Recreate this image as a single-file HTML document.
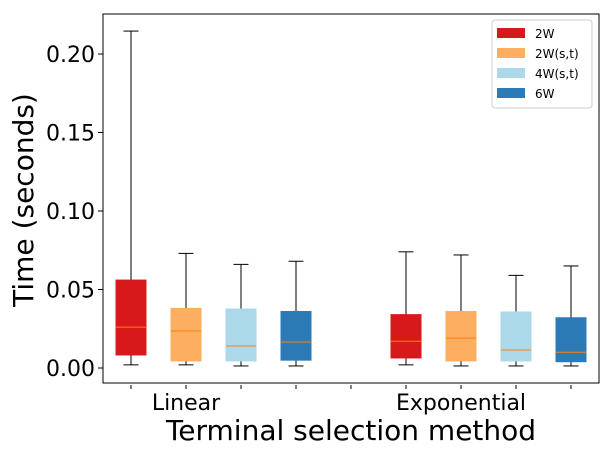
<!DOCTYPE html>
<html><head><meta charset="utf-8"><style>
body{margin:0;background:#fff;}
text{font-family:"DejaVu Sans","Liberation Sans",sans-serif;fill:#000;}
</style></head><body>
<svg id="chart" width="612" height="456" viewBox="0 0 612 456" xmlns="http://www.w3.org/2000/svg">
<rect x="0" y="0" width="612" height="456" fill="#fff"/>
<g id="marks"></g>
<rect x="103" y="14" width="496" height="369" fill="none" stroke="#000" stroke-width="1"/>
<g id="axes"></g>
<text x="351" y="440" font-size="28" text-anchor="middle">Terminal selection method</text>
<text transform="translate(33,200) rotate(-90)" font-size="28" text-anchor="middle">Time (seconds)</text>
<g>
<rect x="492" y="20" width="100" height="88" rx="3" fill="#fff" stroke="#ccc" stroke-width="1"/>
<g id="legend-items"></g>
</g>
</svg>
<script>
const groups = ["Linear", "Exponential"];
const seriesNames = ["2W", "2W(s,t)", "4W(s,t)", "6W"];
const colors = ["#d7191c", "#fdae61", "#abd9e9", "#2c7bb6"];
const whiskerHigh = [0.2146, 0.073, 0.066, 0.068, 0.074, 0.072, 0.059, 0.065];
const q3 = [0.056, 0.038, 0.0376, 0.036, 0.034, 0.036, 0.0357, 0.032];
const medians = [0.026, 0.0236, 0.014, 0.0166, 0.017, 0.019, 0.0115, 0.010];
const q1 = [0.0083, 0.0045, 0.0045, 0.005, 0.0064, 0.0045, 0.0045, 0.004];
const whiskerLow = [0.002, 0.002, 0.0013, 0.0013, 0.002, 0.0013, 0.0013, 0.0013];
const yTicks = [0, 0.05, 0.10, 0.15, 0.20];
const yTickLabels = ["0.00", "0.05", "0.10", "0.15", "0.20"];

const NS = "http://www.w3.org/2000/svg";
function y(v){ return 368 - v * 1570; }
function x(slot){ return 131 + slot * 55; }
function mk(tag, attrs, parent){ const e=document.createElementNS(NS,tag); for(const k in attrs) e.setAttribute(k,attrs[k]); parent.appendChild(e); return e; }
const marks = document.getElementById('marks');
const axes = document.getElementById('axes');
for(let i=0;i<8;i++){
  const g=Math.floor(i/4), s=i%4, slot=g*5+s, cx=x(slot), bw=30;
  const box=mk('g',{},marks);
  
  
  mk('line',{x1:cx,x2:cx,y1:y(whiskerHigh[i]),y2:y(q3[i]),stroke:'#000','stroke-width':1},box);
  mk('line',{x1:cx,x2:cx,y1:y(q1[i]),y2:y(whiskerLow[i]),stroke:'#000','stroke-width':1},box);
  mk('line',{x1:cx-7.5,x2:cx+7.5,y1:y(whiskerHigh[i]),y2:y(whiskerHigh[i]),stroke:'#000','stroke-width':1},box);
  mk('line',{x1:cx-7.5,x2:cx+7.5,y1:y(whiskerLow[i]),y2:y(whiskerLow[i]),stroke:'#000','stroke-width':1},box);
  mk('rect',{x:cx-bw/2,y:y(q3[i]),width:bw,height:y(q1[i])-y(q3[i]),fill:colors[s],stroke:colors[s],'stroke-width':1},box);
  mk('line',{x1:cx-bw/2,x2:cx+bw/2,y1:y(medians[i]),y2:y(medians[i]),stroke:'#ff7f0e','stroke-width':1},box);
}
yTicks.forEach((t,i)=>{
  const yy=y(t);
  mk('line',{x1:98,x2:103,y1:yy,y2:yy,stroke:'#000','stroke-width':1},axes);
  const tx=mk('text',{x:95,y:yy+8,'font-size':22,'text-anchor':'end'},axes);
  tx.textContent=yTickLabels[i];
  
  
});
for(let k=0;k<9;k++){ mk('line',{x1:x(k),x2:x(k),y1:385,y2:389,stroke:'#000','stroke-width':1},axes); }
groups.forEach((gname,g)=>{
  const tx=mk('text',{x:x(g*5+1),y:410,'font-size':22,'text-anchor':'middle'},axes);
  tx.textContent=gname;
  
  
});
const li=document.getElementById('legend-items');
seriesNames.forEach((n,i)=>{
  const yy=28+i*20;
  const g=mk('g',{},li);
  
  
  mk('rect',{x:497,y:yy,width:28,height:10,fill:colors[i]},g);
  const t=mk('text',{x:535,y:yy+10,'font-size':12},g);
  t.textContent=n;
});
</script>
</body></html>
